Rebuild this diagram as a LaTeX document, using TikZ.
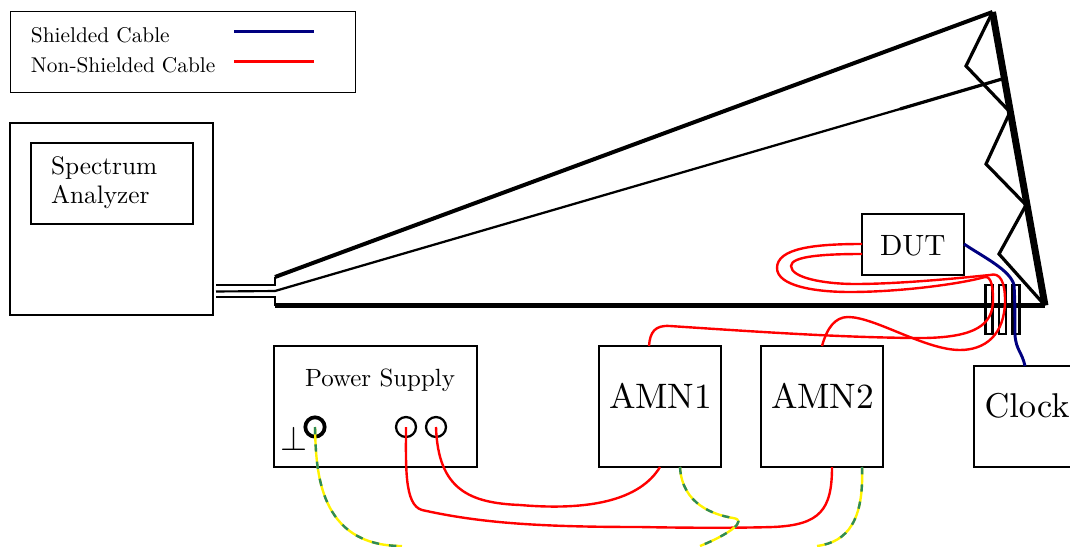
\documentclass[tikz,border=0pt]{standalone}
\usetikzlibrary{calc}
\definecolor{shieldblue}{RGB}{0,0,128}
\definecolor{gndgreen}{RGB}{46,139,87}
\tikzset{
  box/.style={draw=black,line width=1.7pt,rectangle,inner sep=0pt,outer sep=0pt,anchor=north west},
  txt/.style={anchor=base west,inner sep=0pt,outer sep=0pt,text=black,font=\fontsize{10}{12}\selectfont},
  red wire/.style={draw=red,line width=1.8pt},
  blue wire/.style={draw=shieldblue,line width=2.2pt},
  gnd base/.style={draw=yellow,line width=1.8pt},
  gnd dash/.style={draw=gndgreen,line width=1.8pt,dash pattern=on 5.5pt off 7.5pt},
  term/.style={draw=black,circle,line width=1.7pt,inner sep=0pt,outer sep=0pt,minimum size=15pt},
  ferrite/.style={box,line width=1.6pt,minimum width=5.2pt,minimum height=36.5pt}
}
\begin{document}
\begin{tikzpicture}[x=0.75pt,y=-0.75pt,line join=miter]
\useasboundingbox (0,0) rectangle (1070,546);
\clip (0,0) rectangle (1070,546);
% legend
\node[box,line width=0.75pt,minimum width=258.75pt,minimum height=60.75pt] (legend) at (10,11) {};
\node[txt] (l1) at (31,42) {\scalebox{1.6}{Shielded Cable}};
\node[txt] (l2) at (31,72) {\scalebox{1.6}{Non-Shielded Cable}};
\coordinate (la) at (234,31.5); \coordinate (lb) at (314,31.5);
\coordinate (lc) at (234,61.5); \coordinate (ld) at (314,61.5);
\draw[blue wire,line width=1.7pt] (la) -- (lb);
\draw[red wire] (lc) -- (ld);
% spectrum analyzer
\node[box,minimum width=152.25pt,minimum height=144pt] (sa) at (10,123) {};
\node[box,minimum width=121.5pt,minimum height=60.75pt] (sai) at (31,143) {};
\node[txt] (s1) at (51,174) {\scalebox{1.9}{Spectrum}};
\node[txt] (s2) at (51,203) {\scalebox{1.9}{Analyzer}};
% antenna
\coordinate (w1) at (216,285); \coordinate (w1b) at (275,285); \coordinate (a1) at (275,277);
\coordinate (w2) at (216,291.5); \coordinate (w2b) at (275,291);
\coordinate (w3) at (216,297); \coordinate (w3b) at (275,297); \coordinate (a3) at (275,305.5);
\coordinate (tip) at (992.5,12); \coordinate (end) at (1045,305.5);
\coordinate (m1) at (900,109); \coordinate (m2) at (1002,79);
\draw[line width=1.6pt] (w1) -- (w1b) -- (a1);
\draw[line width=1.6pt] (w2) -- (w2b);
\draw[line width=1.6pt] (w3) -- (w3b) -- (a3);
\draw[line width=3pt] (a1) -- (tip);
\draw[line width=1.7pt] (w2b) -- (m1);
\draw[line width=2.4pt] (m1) -- (m2);
\draw[line width=3.6pt] (a3) -- (end);
\draw[line width=5.2pt] (tip) -- (end);
\draw[line width=2.4pt] (tip) -- (966,66) -- (1010,112) -- (986,164) -- (1026,205) -- (999,254) -- (end);
% DUT
\node[box,minimum width=76.5pt,minimum height=45.75pt] (dut) at (862,214) {};
\node[txt] (dutt) at (880,255) {\scalebox{2.2}{DUT}};
% ferrites
\node[ferrite] (f1) at (985.5,285) {};
\node[ferrite] (f2) at (999,285) {};
\node[ferrite] (f3) at (1012.5,285) {};
% power supply
\node[box,minimum width=152.25pt,minimum height=90.75pt] (ps) at (274,346) {};
\node[txt] (pst) at (305,386) {\scalebox{1.87}{Power Supply}};
\node[anchor=center,inner sep=0pt] (gs) at (294,438) {\scalebox{2.6}{$\perp$}};
\node[term,line width=2.8pt,minimum size=14.5pt] (t0) at (315,427) {};
\node[term] (t1) at (406,427) {};
\node[term] (t2) at (436,427) {};
% AMN + clock
\node[box,minimum width=91.5pt,minimum height=90.75pt] (amn1) at (599,346) {};
\node[txt] (a1t) at (609,408) {\scalebox{2.65}{AMN1}};
\node[box,minimum width=91.5pt,minimum height=90.75pt] (amn2) at (761,346) {};
\node[txt] (a2t) at (771,408) {\scalebox{2.65}{AMN2}};
\node[box,minimum width=90pt,minimum height=75.75pt] (clk) at (974,366) {};
\node[txt] (ct) at (984.5,417) {\scalebox{2.58}{Clock}};
% red wires
\draw[red wire] (dut.west |- 0,244) .. controls (815,244) and (777,248) .. (777,268)
  .. controls (777,286) and (815,292) .. (850,292)
  .. controls (900,292) and (960,284) .. (985,277)
  .. controls (992,276) and (993,290) .. (993,300)
  .. controls (993,325) and (975,337) .. (925,338)
  .. controls (850,338) and (760,332) .. (670,326)
  .. controls (655,325) and (650,332) .. (649,346);
\draw[red wire] (dut.west |- 0,254) .. controls (825,254) and (791,256) .. (791,266)
  .. controls (791,278) and (825,284) .. (855,284)
  .. controls (900,284) and (960,278) .. (990,275)
  .. controls (1000,272) and (1005,282) .. (1005,300)
  .. controls (1005,335) and (985,350) .. (960,350)
  .. controls (925,350) and (875,317) .. (848,317)
  .. controls (835,317) and (827,328) .. (822,346);
\draw[red wire] (t1.center) .. controls (406,465) and (404,505) .. (422,510)
  .. controls (480,523) and (540,527) .. (640,527)
  .. controls (690,528) and (740,528) .. (773,527)
  .. controls (820,525) and (832,510) .. (832,467);
\draw[red wire] (t2.center) .. controls (438,490) and (470,503) .. (520,505)
  .. controls (590,511) and (640,500) .. (660,467);
% blue wire
\draw[blue wire] (964,244) .. controls (985,258) and (1010,270) .. (1014,285)
  .. controls (1015,300) and (1015,320) .. (1015,335)
  .. controls (1016,350) and (1022,352) .. (1025,366);
% ground wires
\newcommand{\gndone}[1]{\draw[#1] (t0.center) .. controls (316,470) and (318,546) .. (402,546);}
\newcommand{\gndtwo}[1]{\draw[#1] (680,467) .. controls (682,505) and (715,515) .. (733,518)
  .. controls (748,520) and (730,534) .. (700,546);}
\newcommand{\gndthree}[1]{\draw[#1] (862,467) .. controls (864,520) and (848,542) .. (817,546);}
\gndone{gnd base}\gndone{gnd dash}
\gndtwo{gnd base}\gndtwo{gnd dash}
\gndthree{gnd base}\gndthree{gnd dash}
\end{tikzpicture}
\end{document}
